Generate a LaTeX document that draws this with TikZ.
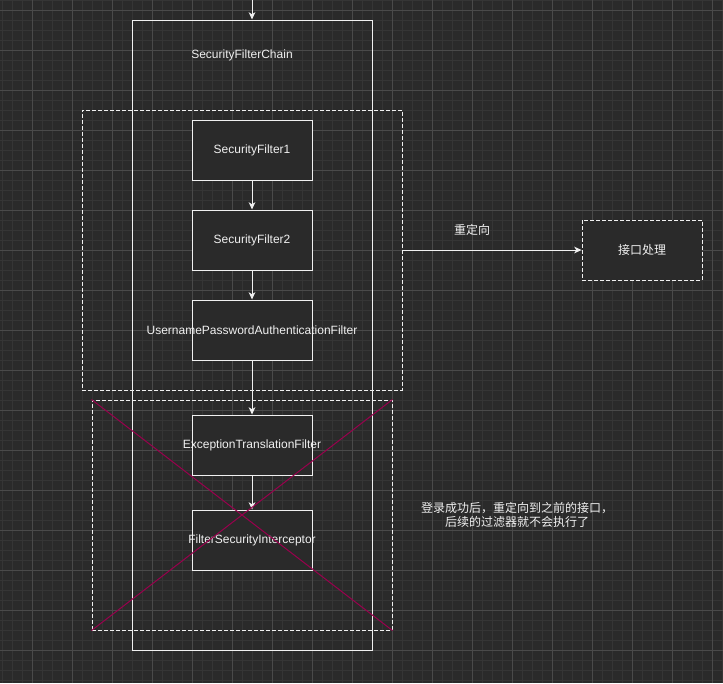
\documentclass[tikz,border=0pt]{standalone}
\usepackage{fontspec}
\setmainfont{Liberation Sans}
\newfontfamily\cjk{Noto Sans CJK SC}
\usetikzlibrary{arrows.meta}
\definecolor{bg}{HTML}{2A2A2A}
\definecolor{gridminor}{HTML}{353535}
\definecolor{gridmajor}{HTML}{4A4A4A}
\definecolor{fg}{HTML}{F0F0F0}
\definecolor{crossred}{HTML}{99004D}
\newcommand{\nowidth}[1]{\makebox[0pt]{#1}}
\tikzset{
  txt/.style={text=fg, font=\fontsize{9}{11}\selectfont, inner sep=0pt},
  fbox/.style={draw=fg, line width=0.75pt, fill=bg, minimum width=90pt, minimum height=45pt, inner sep=0pt, txt},
  dashbox/.style={draw=fg, line width=0.75pt, dash pattern=on 3pt off 1.5pt, inner sep=0pt},
  arr/.style={draw=fg, line width=0.75pt, -{Stealth[length=5.5pt,width=5pt,inset=1.6pt]}},
}
\begin{document}
\begin{tikzpicture}[x=0.75pt,y=-0.75pt]
\fill[bg] (0,0) rectangle (723,683);
\useasboundingbox (0,0) rectangle (723,683);
% grid
\foreach \x in {2,12,...,722} \draw[gridminor, line width=0.75pt] (\x,0) -- (\x,683);
\foreach \y in {0,10,...,680} \draw[gridminor, line width=0.75pt] (0,\y) -- (723,\y);
\foreach \x in {32,72,...,712} \draw[gridmajor, line width=0.75pt] (\x,0) -- (\x,683);
\foreach \y in {10,50,...,680} \draw[gridmajor, line width=0.75pt] (0,\y) -- (723,\y);

% outer chain
\node[draw=fg, line width=0.75pt, minimum width=180pt, minimum height=472.5pt, inner sep=0pt] (chain) at (252,335) {};
\node[txt] (chainlbl) at (242,55.5) {SecurityFilterChain};

% dashed groups
\node[dashbox, minimum width=240pt, minimum height=210pt] (g1) at (242,250) {};
\node[dashbox, minimum width=225pt, minimum height=172.5pt] (g2) at (242,515) {};

% filters
\node[fbox] (f1) at (252,150) {\nowidth{SecurityFilter1}};
\node[fbox] (f2) at (252,240) {\nowidth{SecurityFilter2}};
\node[fbox] (f3) at (252,330) {\nowidth{UsernamePasswordAuthenticationFilter}};
\node[fbox] (f4) at (252,445) {\nowidth{ExceptionTranslationFilter}};
\node[fbox] (f5) at (252,540) {\nowidth{FilterSecurityInterceptor}};

% api
\node[fbox, dash pattern=on 3pt off 1.5pt, font=\cjk\fontsize{9}{11}\selectfont] (api) at (642,250) {接口处理};

% connectors
\coordinate (topin) at (252,0);
\draw[arr] (topin) -- (chain.north);
\draw[arr] (f1) -- (f2);
\draw[arr] (f2) -- (f3);
\draw[arr] (f3) -- (f4);
\draw[arr] (f4) -- (f5);
\draw[arr] (g1.east) -- (api.west);
\node[txt, font=\cjk\fontsize{9}{11}\selectfont] (redir) at (472,230) {重定向};

% cross
\draw[crossred, line width=0.75pt] (g2.north west) -- (g2.south east);
\draw[crossred, line width=0.75pt] (g2.north east) -- (g2.south west);

% note
\node[txt, align=center, font=\cjk\fontsize{9}{10.5}\selectfont] (note) at (517,515) {登录成功后，重定向到之前的接口，\\后续的过滤器就不会执行了};
\end{tikzpicture}
\end{document}
